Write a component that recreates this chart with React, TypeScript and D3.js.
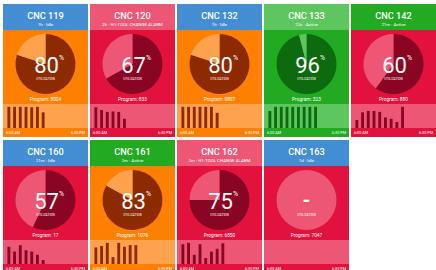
import * as React from 'react';
import * as d3 from 'd3';

// one entry per machine, in reading order
const machines = ['CNC 119', 'CNC 120', 'CNC 132', 'CNC 133', 'CNC 142', 'CNC 160', 'CNC 161', 'CNC 162', 'CNC 163'];
const elapsed = ['1h', '2h', '1h', '22s', '21m', '21m', '2m', '2m', '1d'];
const states = ['Idle', 'H1-TOOL CHANGE ALARM', 'Idle', 'Active', 'Active', 'Idle', 'Active', 'H1-TOOL CHANGE ALARM', 'Idle'];
const programs = ['8004', '833', '0807', '323', '880', '17', '1076', '6850', '7047'];
const utilization: (number | null)[] = [80, 67, 80, 96, 60, 57, 83, 75, null];

// utilization per time slot since 6:00 AM
const cnc119 = [92, 92, 92, 92, 90, 92, 68];
const cnc120 = [90, 78, 70, 72, 70, 40];
const cnc132 = [92, 92, 92, 92, 92, 92, 66];
const cnc133 = [74, 92, 92, 92, 92, 92, 92, 92, 92];
const cnc142 = [35, 68, 74, 74, 70, 46, 40, 26, 92];
const cnc160 = [75, 54, 82, 60, 54, 40, 17];
const cnc161 = [72, 78, 92, 30, 92, 75, 82, 82];
const cnc162 = [86, 92, 40, 86, 26, 54, 66, 90];
const cnc163: number[] = [];
const slots = [cnc119, cnc120, cnc132, cnc133, cnc142, cnc160, cnc161, cnc162, cnc163];

const timeTicks = ['6:00 AM', '6:30 PM'];

const W = 436;
const H = 270;
const CARD_W = 85;
const CARD_H = 133;
const COLS = 5;
const SLOT_COUNT = 14;

const tones: Record<string, { base: string; light: string; dark: string }> = {
    blue: { base: '#438dd2', light: '#6aa8e0', dark: '#1f5a94' },
    orange: { base: '#ff7f00', light: '#ffa24e', dark: '#8d2a00' },
    red: { base: '#e3123c', light: '#ee5675', dark: '#8a0424' },
    green: { base: '#22aa22', light: '#5ec65e', dark: '#0e6a0e' },
};

const bodyTone = d3.scaleThreshold<number, string>().domain([80, 90]).range(['red', 'orange', 'green']);
const stateTone = (s: string) => (s === 'Idle' ? 'blue' : s === 'Active' ? 'green' : 'red');

const FONT = 'Roboto, "Liberation Sans", Arial, sans-serif';

const pie = d3.pie<number>().sort(null).value((d) => d);
const arc = d3.arc<d3.PieArcDatum<number>>().innerRadius(0).outerRadius(30);

const barX = d3.scaleBand<number>().domain(d3.range(SLOT_COUNT)).range([3, 83]).paddingInner(0.5).paddingOuter(0.25);
const barY = d3.scaleLinear().domain([0, 100]).range([124, 101]);

function Card({ i }: { i: number }) {
    const x0 = 3 + (i % COLS) * 87;
    const y0 = 4 + Math.floor(i / COLS) * 136;
    const u = utilization[i];
    const body = u == null ? 'red' : bodyTone(u);
    const t = tones[body];
    const hTone = stateTone(states[i]);
    const header = hTone === body ? tones[hTone].light : tones[hTone].base;
    const cx = CARD_W / 2;
    const cy = 60;

    return (
        <g transform={`translate(${x0},${y0})`}>
            <rect width={CARD_W} height={CARD_H} fill={t.base} />
            <rect width={CARD_W} height={26} fill={header} />
            <text x={cx} y={14.5} textAnchor="middle" fill="#fff" fontSize={9.2} fontWeight={500} fontFamily={FONT}>
                {machines[i]}
            </text>
            <text x={cx} y={22} textAnchor="middle" fill="#fff" fontSize={4.4} fontFamily={FONT}>
                {`${elapsed[i]} · ${states[i]}`}
            </text>

            <g transform={`translate(${cx},${cy})`}>
                {u == null ? (
                    <circle r={30} fill={t.light} />
                ) : (
                    pie([u, 100 - u]).map((d, k) => (
                        <path key={k} d={arc(d) || ''} fill={k === 0 ? t.dark : t.light} />
                    ))
                )}
                {u == null ? (
                    <text x={0} y={7} textAnchor="middle" fill="#fff" fontSize={20} fontWeight="bold" fontFamily={FONT}>
                        -
                    </text>
                ) : (
                    <g>
                        <text x={1} y={8.5} textAnchor="middle" fill="#fff" fontSize={22} fontFamily={FONT}>
                            {u}
                        </text>
                        <text x={13.5} y={-4.5} fill="#fff" fontSize={7} fontFamily={FONT}>
                            %
                        </text>
                    </g>
                )}
                <text x={0} y={16} textAnchor="middle" fill="#fff" fontSize={3.2} fontFamily={FONT}>
                    UTILIZATION
                </text>
            </g>

            <text x={cx} y={97} textAnchor="middle" fill="#fff" fontSize={4.8} fontFamily={FONT}>
                {`Program: ${programs[i]}`}
            </text>

            <rect x={0} y={100} width={CARD_W} height={24} fill={t.light} />
            {slots[i].map((v, k) => (
                <rect key={k} x={barX(k)} y={barY(v)} width={barX.bandwidth()} height={barY(0) - barY(v)} fill={t.dark} />
            ))}
            <text x={3} y={129.5} fill="#fff" fontSize={3.8} fontFamily={FONT}>
                {timeTicks[0]}
            </text>
            <text x={CARD_W - 3} y={129.5} textAnchor="end" fill="#fff" fontSize={3.8} fontFamily={FONT}>
                {timeTicks[1]}
            </text>
        </g>
    );
}

export default function App() {
    return (
        <svg width={W} height={H} style={{ position: 'absolute', left: 0, top: 0, background: '#fff' }}>
            {machines.map((m, i) => (
                <Card key={m} i={i} />
            ))}
        </svg>
    );
}
